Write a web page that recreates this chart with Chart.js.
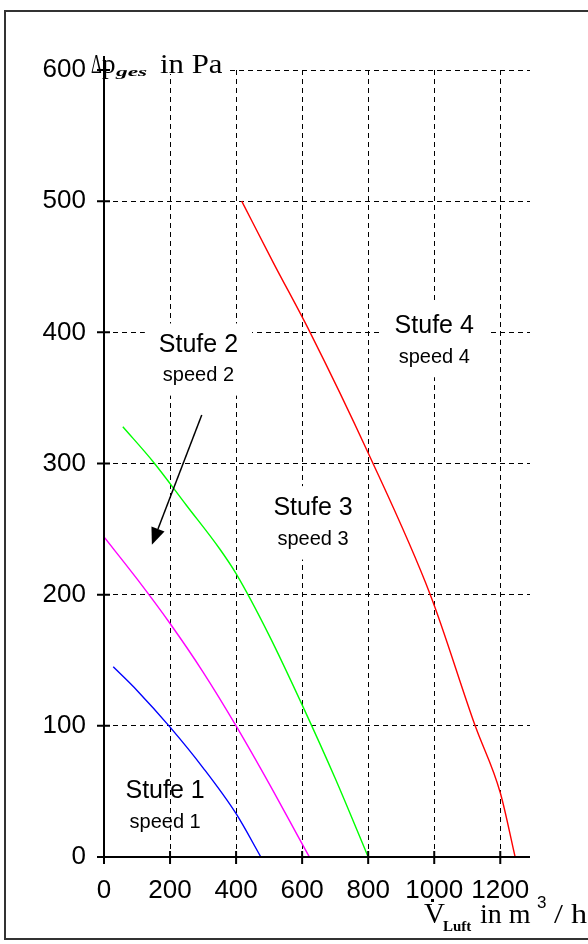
<!DOCTYPE html>
<html lang="de">
<head>
<meta charset="UTF-8">
<title>Lüfter Kennlinie</title>
<script src="https://cdn.jsdelivr.net/npm/chart.js"></script>
<style>
    html, body { margin: 0; padding: 0; background: #fff; overflow: hidden; }
    #frame { position: absolute; left: 4px; top: 10px; width: 620px; height: 926px; border: 2px solid #333; }
    #chart { position: absolute; left: 0; top: 0; }
</style>
</head>
<body>

<div id="frame"></div>
<canvas id="chart" width="588" height="944"></canvas>

<script>
    // axis ticks
    const xTicks = [0, 200, 400, 600, 800, 1000, 1200];
    const yTicks = [0, 100, 200, 300, 400, 500, 600];

    // curves: volume flow in m3/h, pressure in Pa
    const stufe1Flow = [28, 100, 200, 300, 400, 475];
    const stufe1Pressure = [145, 127, 99, 68, 33, 0];

    const stufe2Flow = [0, 100, 200, 300, 400, 500, 600, 622];
    const stufe2Pressure = [244, 212, 178, 141, 100, 56, 10, 0];

    const stufe3Flow = [57, 150, 250, 350, 400, 500, 600, 700, 800];
    const stufe3Pressure = [328, 301, 268, 235, 216, 169, 116, 60, 0];

    const stufe4Flow = [417, 513, 624, 800, 988, 1124, 1200, 1245];
    const stufe4Pressure = [500, 453, 400, 308, 200, 100, 49, 0];

    // text labels placed in data units
    const labelTitles = ['Stufe 1', 'Stufe 2', 'Stufe 3', 'Stufe 4'];
    const labelSubs = ['speed 1', 'speed 2', 'speed 3', 'speed 4'];
    const labelX = [185, 286, 633, 1000];
    const labelTitleY = [50, 390, 266, 405];
    const labelSubY = [26, 367, 242, 381];
    const labelBoxed = [false, true, true, true];

    // arrow from "Stufe 2" label down to the magenta curve
    const arrowFrom = [296, 337];
    const arrowTo = [145, 238];

    const sansFont = '"Liberation Sans", Arial, sans-serif';
    const serifFont = '"Liberation Serif", "Times New Roman", serif';

    function toPoints(xs, ys) {
        return xs.map((v, i) => ({ x: v, y: ys[i] }));
    }

    function curve(xs, ys, color) {
        return {
            data: toPoints(xs, ys),
            showLine: true,
            borderColor: color,
            borderWidth: 1.4,
            pointRadius: 0,
            cubicInterpolationMode: 'monotone',
            fill: false
        };
    }

    // text with optional horizontal stretch
    function drawText(c, text, x, y, font, sx) {
        c.save();
        c.font = font;
        c.translate(x, y);
        c.scale(sx || 1, 1);
        c.fillText(text, 0, 0);
        c.restore();
    }

    const decor = {
        id: 'decor',
        beforeDatasetsDraw(chart) {
            const { ctx, chartArea: a } = chart;
            const xs = chart.scales.x, ys = chart.scales.y;
            ctx.save();

            // labels, some with a white box over the grid
            for (let i = 0; i < labelTitles.length; i++) {
                const cx = xs.getPixelForValue(labelX[i]);
                const ty = ys.getPixelForValue(labelTitleY[i]);
                const sy = ys.getPixelForValue(labelSubY[i]);
                ctx.font = '25px ' + sansFont;
                const w1 = ctx.measureText(labelTitles[i]).width;
                ctx.font = '20px ' + sansFont;
                const w2 = ctx.measureText(labelSubs[i]).width;
                const w = Math.max(w1, w2);
                if (labelBoxed[i]) {
                    ctx.fillStyle = '#fff';
                    ctx.fillRect(cx - w / 2 - 14, ty - 22, w + 28, sy - ty + 42);
                }
                ctx.fillStyle = '#000';
                ctx.textAlign = 'center';
                ctx.textBaseline = 'middle';
                ctx.font = '25px ' + sansFont;
                ctx.fillText(labelTitles[i], cx, ty);
                ctx.font = '20px ' + sansFont;
                ctx.fillText(labelSubs[i], cx, sy);
            }

            // y axis title
            ctx.fillStyle = '#fff';
            ctx.fillRect(a.left + 2, a.top - 26, 124, 30);
            ctx.fillStyle = '#000';
            ctx.textAlign = 'left';
            ctx.textBaseline = 'alphabetic';
            drawText(ctx, '\u0394', a.left - 13, a.top + 3, '27px ' + serifFont, 0.62);
            drawText(ctx, 'p', a.left - 2, a.top + 3, '27px ' + serifFont);
            drawText(ctx, 'ges', a.left + 12, a.top + 6, 'italic bold 13px ' + serifFont, 1.8);
            drawText(ctx, 'in Pa', a.left + 56, a.top + 3, '28px ' + serifFont, 1.1);

            // x axis title
            const bx = a.left + 320, by = a.bottom + 66;
            drawText(ctx, 'V', bx, by, '29px ' + serifFont);
            ctx.fillRect(bx + 7, by - 24, 3, 3);
            drawText(ctx, 'Luft', bx + 19, by + 8, 'bold 15px ' + serifFont);
            drawText(ctx, 'in m', bx + 56, by, '28px ' + serifFont);
            drawText(ctx, '3', bx + 113, by - 15, '17px ' + sansFont);
            drawText(ctx, '/ h', bx + 130, by, '28px ' + serifFont, 1.15);
            ctx.restore();
        },
        afterDatasetsDraw(chart) {
            const { ctx, chartArea: a } = chart;
            const xs = chart.scales.x, ys = chart.scales.y;
            ctx.save();
            ctx.strokeStyle = '#000';
            ctx.lineWidth = 2;
            ctx.beginPath();
            ctx.moveTo(a.left, a.top - 14);
            ctx.lineTo(a.left, a.bottom + 7);
            ctx.moveTo(a.left - 7, a.bottom);
            ctx.lineTo(a.right, a.bottom);
            xTicks.forEach(v => {
                const px = xs.getPixelForValue(v);
                ctx.moveTo(px, a.bottom - 6);
                ctx.lineTo(px, a.bottom + 7);
            });
            yTicks.forEach(v => {
                const py = ys.getPixelForValue(v);
                ctx.moveTo(a.left - 7, py);
                ctx.lineTo(a.left + 6, py);
            });
            ctx.stroke();

            // arrow
            const x1 = xs.getPixelForValue(arrowFrom[0]), y1 = ys.getPixelForValue(arrowFrom[1]);
            const x2 = xs.getPixelForValue(arrowTo[0]), y2 = ys.getPixelForValue(arrowTo[1]);
            const ang = Math.atan2(y2 - y1, x2 - x1);
            const head = 17, half = 7;
            const hx = x2 - head * Math.cos(ang), hy = y2 - head * Math.sin(ang);
            ctx.lineWidth = 1.5;
            ctx.beginPath();
            ctx.moveTo(x1, y1);
            ctx.lineTo(hx, hy);
            ctx.stroke();
            ctx.fillStyle = '#000';
            ctx.beginPath();
            ctx.moveTo(x2, y2);
            ctx.lineTo(hx + half * Math.sin(ang), hy - half * Math.cos(ang));
            ctx.lineTo(hx - half * Math.sin(ang), hy + half * Math.cos(ang));
            ctx.closePath();
            ctx.fill();
            ctx.restore();
        }
    };

    const ctx = document.getElementById('chart').getContext('2d');

    const chart = new Chart(ctx, {
        type: 'scatter',
        data: {
            datasets: [
                curve(stufe1Flow, stufe1Pressure, '#0000ff'),
                curve(stufe2Flow, stufe2Pressure, '#ff00ff'),
                curve(stufe3Flow, stufe3Pressure, '#00ff00'),
                curve(stufe4Flow, stufe4Pressure, '#ff0000')
            ]
        },
        options: {
            responsive: false,
            animation: false,
            layout: { padding: { top: 70, right: 58, left: 0, bottom: 0 } },
            plugins: {
                legend: { display: false },
                tooltip: { enabled: false }
            },
            scales: {
                x: {
                    type: 'linear',
                    min: 0,
                    max: 1290,
                    afterBuildTicks: s => { s.ticks = xTicks.map(v => ({ value: v })); },
                    afterFit: s => { s.height = 87; },
                    grid: { color: '#000', lineWidth: 1, drawTicks: false },
                    border: { display: false, dash: [5, 4] },
                    ticks: {
                        color: '#000',
                        padding: 18,
                        maxRotation: 0,
                        font: { family: sansFont, size: 26 },
                        callback: v => String(v)
                    }
                },
                y: {
                    type: 'linear',
                    min: 0,
                    max: 600,
                    afterBuildTicks: s => { s.ticks = yTicks.map(v => ({ value: v })); },
                    afterFit: s => { s.width = 104; },
                    grid: { color: '#000', lineWidth: 1, drawTicks: false },
                    border: { display: false, dash: [5, 4] },
                    ticks: {
                        color: '#000',
                        padding: 18,
                        font: { family: sansFont, size: 26 },
                        callback: v => String(v)
                    }
                }
            }
        },
        plugins: [decor]
    });
</script>

</body>
</html>
